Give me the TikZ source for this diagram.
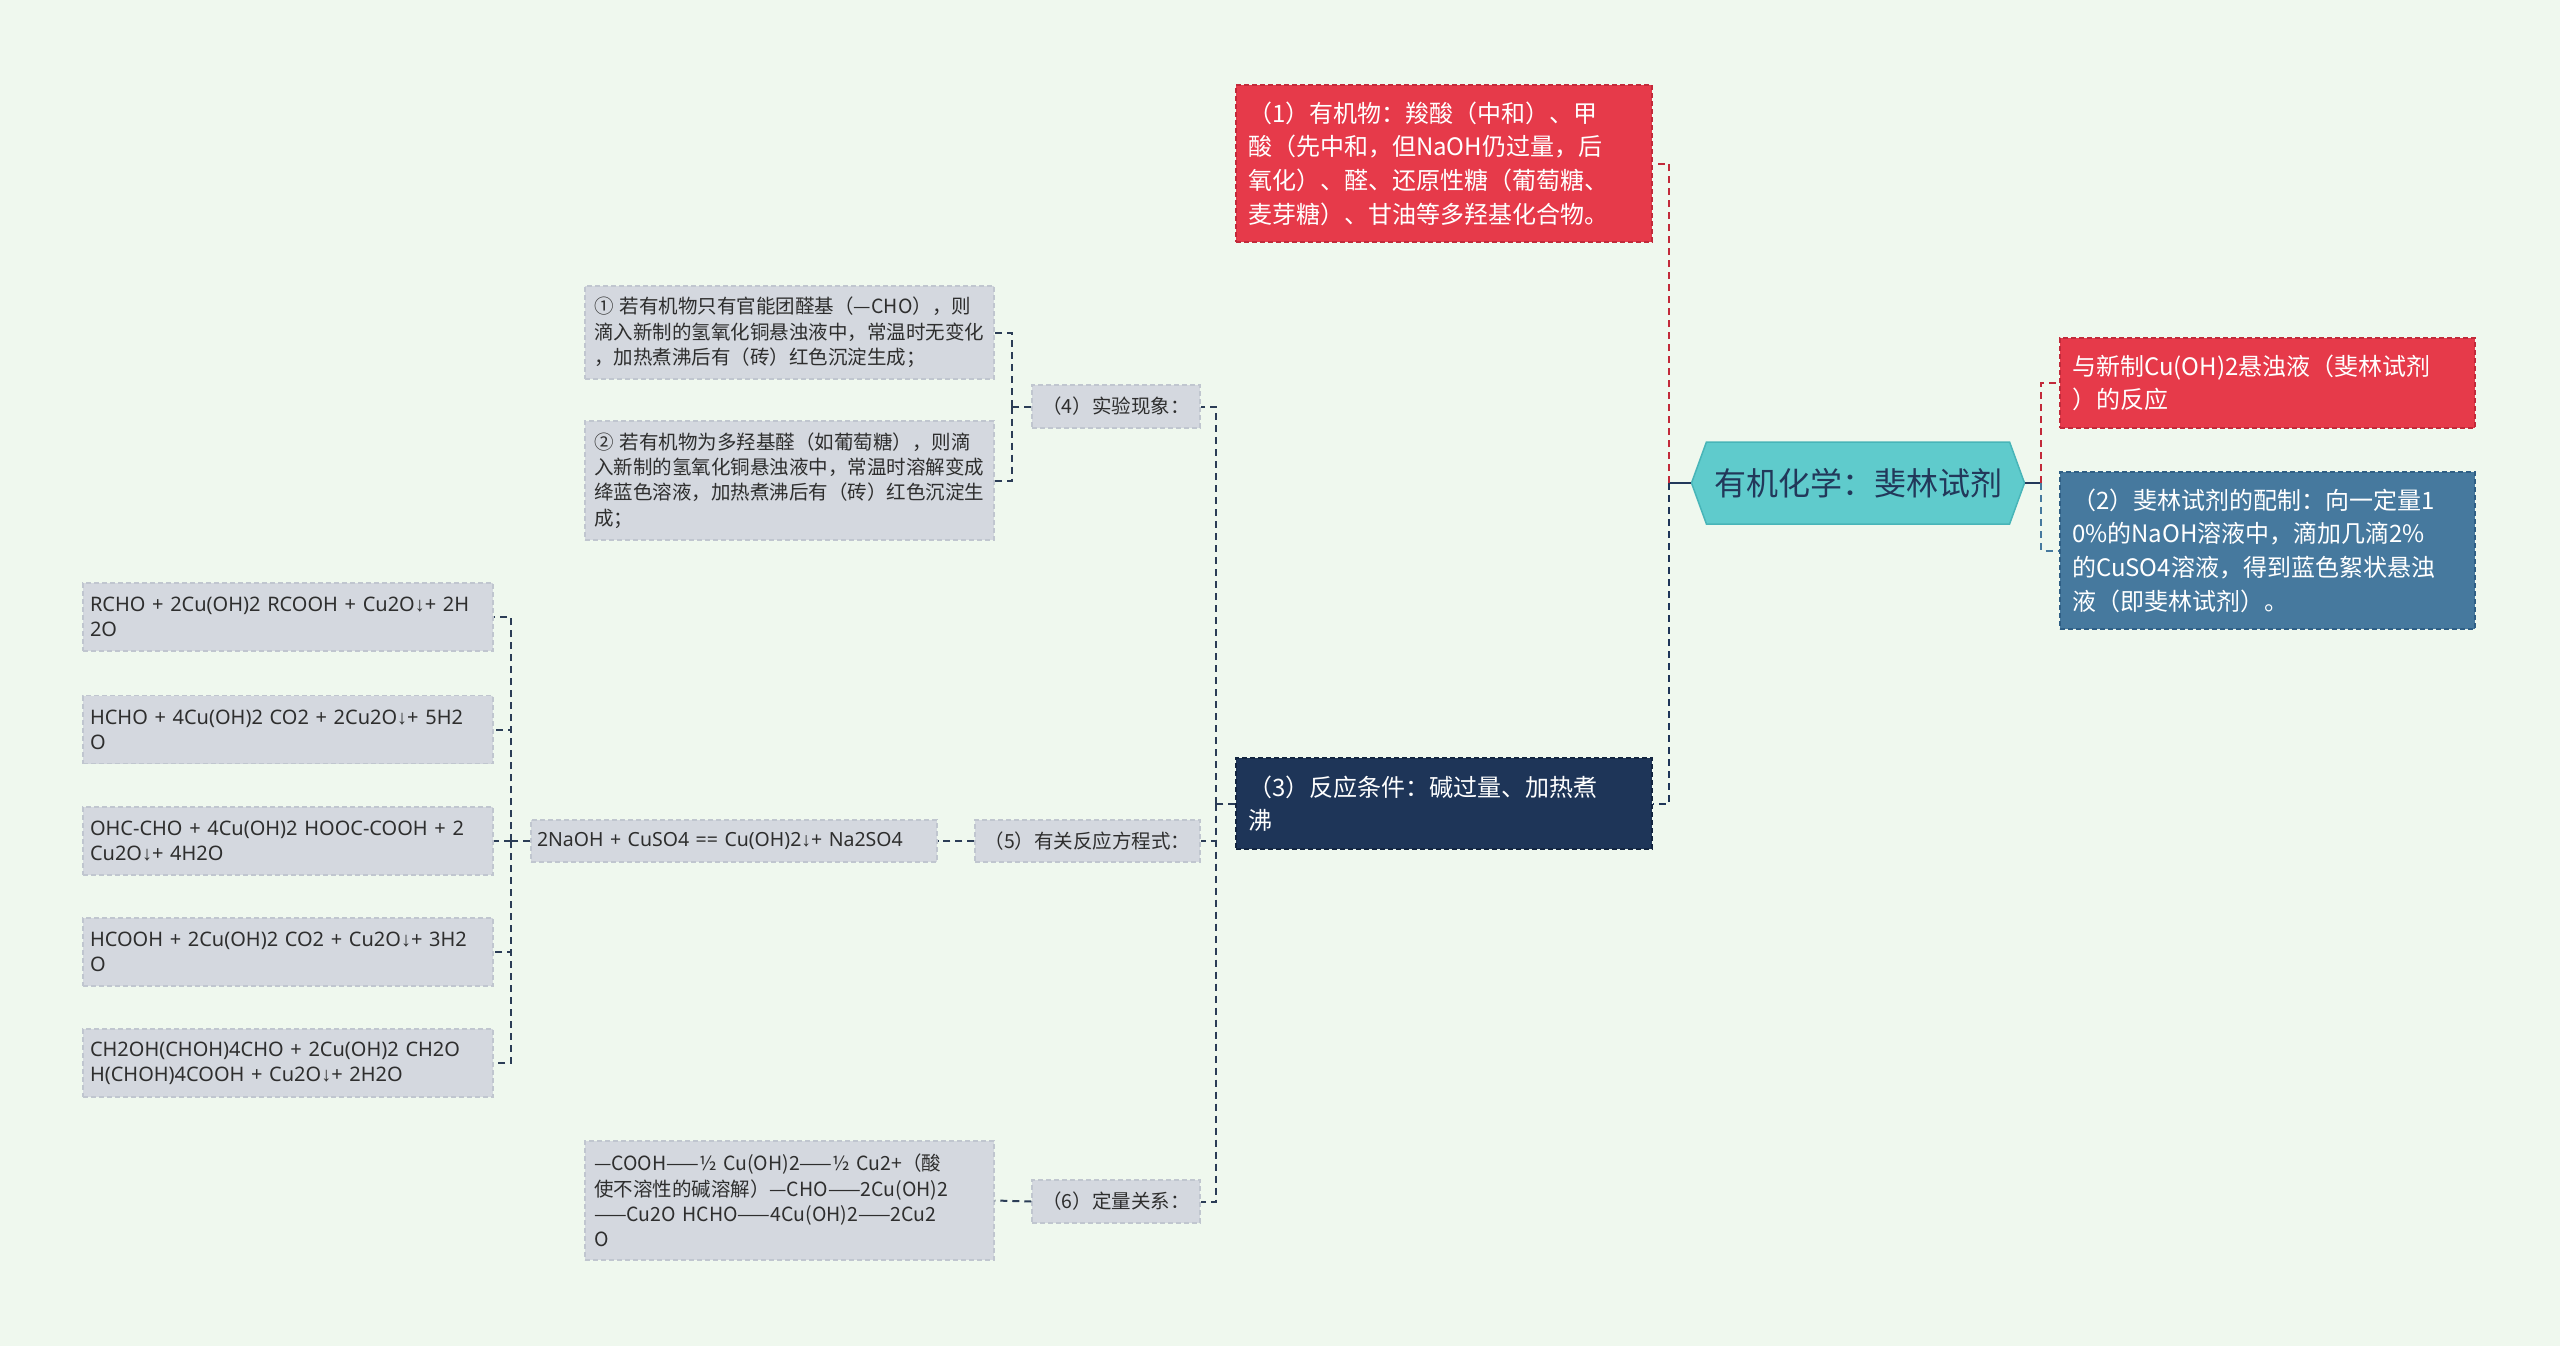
\documentclass[tikz,border=0pt]{standalone}
\usepackage{fontspec}
\setmainfont{Noto Sans CJK SC}
\newfontfamily\latf{Noto Sans}
\newfontfamily\arrf{Liberation Sans}
\newcommand\darr{{\arrf ↓}}
\usetikzlibrary{shapes.symbols}
\definecolor{bg}{HTML}{EFF8EE}
\definecolor{redf}{HTML}{E63A4A}
\definecolor{redb}{HTML}{C22A3A}
\definecolor{bluef}{HTML}{46799E}
\definecolor{blueb}{HTML}{2F5F85}
\definecolor{navyf}{HTML}{1E3558}
\definecolor{navyb}{HTML}{132540}
\definecolor{tealf}{HTML}{5FCBCC}
\definecolor{tealb}{HTML}{48B5B8}
\definecolor{grayf}{HTML}{D4D8DF}
\definecolor{grayb}{HTML}{C0C6CF}
\definecolor{txt}{HTML}{2E2E2E}
\definecolor{rootline}{HTML}{22385A}
\definecolor{subline}{HTML}{2B3D56}
\begin{document}
\begin{tikzpicture}[x=1pt,y=-1pt,
  conn/.style={line width=2pt, dash pattern=on 7pt off 5pt},
  bigbox/.style={font=\fontsize{24}{33.6}\selectfont, text=white, align=left,
     inner xsep=12pt, inner ysep=0pt, line width=1.5pt, dash pattern=on 5pt off 3pt},
  smbox/.style={font=\fontsize{19.5}{25.3}\selectfont, text=txt, align=left,
     inner xsep=9pt, inner ysep=0pt, fill=grayf, draw=grayb, line width=1.5pt,
     dash pattern=on 5pt off 3pt},
  eqbox/.style={smbox, font=\latf\fontsize{20}{25.3}\selectfont, minimum width=410pt, text width=396pt, inner xsep=7pt, minimum height=68pt},
  rootbox/.style={signal, signal to=west and east, signal pointer angle=140,
     fill=tealf, draw=tealb, line width=1.5pt, text=rootline,
     font=\fontsize{32}{38}\selectfont, minimum width=333pt, minimum height=82pt,
     inner xsep=4pt}
]
\path[fill=bg] (0,0) rectangle (2560,1346);
\useasboundingbox (0,0) rectangle (2560,1346);

% root
\node[rootbox] (root) at (1858,483) {有机化学：斐林试剂};

% right side
\node[bigbox, fill=redf, draw=redb, minimum width=415pt, text width=391pt, minimum height=90pt]
  (r1) at (2267.5,383) {与新制Cu(OH)2悬浊液（斐林试剂\\）的反应};
\node[bigbox, fill=bluef, draw=blueb, minimum width=415pt, text width=391pt, minimum height=157pt]
  (r2) at (2267.5,550.5) {（2）斐林试剂的配制：向一定量1\\0\%的NaOH溶液中，滴加几滴2\%\\的CuSO4溶液，得到蓝色絮状悬浊\\液（即斐林试剂）。};

% left first level
\node[bigbox, fill=redf, draw=redb, minimum width=416pt, text width=392pt, minimum height=157pt]
  (n1) at (1444,163.5) {（1）有机物：羧酸（中和）、甲\\酸（先中和，但NaOH仍过量，后\\氧化）、醛、还原性糖（葡萄糖、\\麦芽糖）、甘油等多羟基化合物。};
\node[bigbox, fill=navyf, draw=navyb, minimum width=416pt, text width=392pt, minimum height=91pt]
  (n3) at (1444,803.5) {（3）反应条件：碱过量、加热煮\\沸};

% children of (3)
\node[smbox, align=center, minimum width=168pt, minimum height=43pt] (n4) at (1116,406.5) {（4）实验现象：};
\node[smbox, align=center, minimum width=225pt, minimum height=42pt] (n5) at (1087.5,841) {（5）有关反应方程式：};
\node[smbox, align=center, minimum width=168pt, minimum height=43pt] (n6) at (1116,1201.5) {（6）定量关系：};

% children of (4)
\node[smbox, minimum width=409pt, text width=391pt, minimum height=93pt] (a1) at (789.5,332.5)
  {① 若有机物只有官能团醛基（—CHO），则\\滴入新制的氢氧化铜悬浊液中，常温时无变化\\，加热煮沸后有（砖）红色沉淀生成；};
\node[smbox, minimum width=409pt, text width=391pt, minimum height=119pt] (a2) at (789.5,480.5)
  {② 若有机物为多羟基醛（如葡萄糖），则滴\\入新制的氢氧化铜悬浊液中，常温时溶解变成\\绛蓝色溶液，加热煮沸后有（砖）红色沉淀生\\成；};

% child of (5)
\node[smbox, font=\latf\fontsize{19.5}{25.3}\selectfont, minimum width=406pt, text width=394pt, inner xsep=6pt, minimum height=42pt] (b0) at (734,841)
  {2NaOH + CuSO4 == Cu(OH)2\darr+ Na2SO4};

% equations
\node[eqbox] (e1) at (288,617) {RCHO + 2Cu(OH)2 RCOOH + Cu2O\darr+ 2H\\2O};
\node[eqbox] (e2) at (288,729.5) {HCHO + 4Cu(OH)2 CO2 + 2Cu2O\darr+ 5H2\\O};
\node[eqbox] (e3) at (288,841) {OHC-CHO + 4Cu(OH)2 HOOC-COOH + 2\\Cu2O\darr+ 4H2O};
\node[eqbox] (e4) at (288,952) {HCOOH + 2Cu(OH)2 CO2 + Cu2O\darr+ 3H2\\O};
\node[eqbox] (e5) at (288,1063) {CH2OH(CHOH)4CHO + 2Cu(OH)2 CH2O\\H(CHOH)4COOH + Cu2O\darr+ 2H2O};

% child of (6)
\node[smbox, minimum width=409pt, text width=391pt, minimum height=119pt] (c1) at (789.5,1200.5)
  {—COOH——½ Cu(OH)2——½ Cu2+（酸\\使不溶性的碱溶解）—CHO——2Cu(OH)2\\——Cu2O HCHO——4Cu(OH)2——2Cu2\\O};

% junction coordinates
\coordinate (tl) at (1669,483);
\coordinate (tr) at (2041,483);
\coordinate (t3) at (1216,803.5);
\coordinate (t4) at (1012,406.5);
\coordinate (t5) at (511,841);

% connectors
\draw[line width=2pt, rootline] (root.west) -- (tl);
\draw[line width=2pt, rootline] (root.east) -- (tr);
\draw[conn, redb] (tl) |- (n1.east);
\draw[conn, navyf] (tl) |- (n3.east);
\draw[conn, redb] (tr) |- (r1.west);
\draw[conn, bluef] (tr) |- (r2.west);

\draw[conn, subline] (n3.west) -- (t3);
\draw[conn, subline] (t3) |- (n4.east);
\draw[conn, subline] (t3) |- (n5.east);
\draw[conn, subline] (t3) |- (n6.east);

\draw[conn, subline] (n4.west) -- (t4);
\draw[conn, subline] (t4) |- (a1.east);
\draw[conn, subline] (t4) |- (a2.east);

\draw[conn, subline] (n5.west) -- (b0.east);
\draw[conn, subline] (b0.west) -- (t5);
\foreach \e in {e1,e2,e3,e4,e5} {\draw[conn, subline] (t5) |- (\e.east);}

\draw[conn, subline] (n6.west) -- (c1.east);
\end{tikzpicture}
\end{document}
